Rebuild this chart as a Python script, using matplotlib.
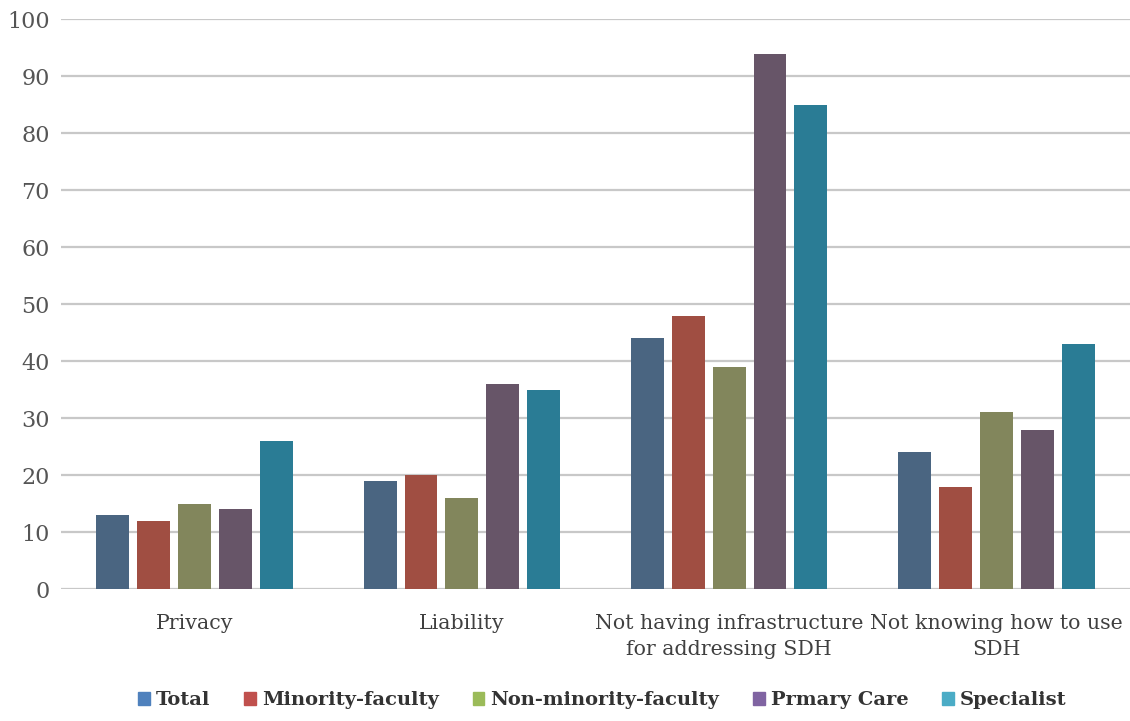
import matplotlib.pyplot as plt
import matplotlib.patches as mpatches
import numpy as np

categories = ["Privacy", "Liability", "Not having infrastructure\nfor addressing SDH",
              "Not knowing how to use\nSDH"]
series = ["Total", "Minority-faculty", "Non-minority-faculty", "Prmary Care", "Specialist"]
values = {
    "Total": [13, 19, 44, 24],
    "Minority-faculty": [12, 20, 48, 18],
    "Non-minority-faculty": [15, 16, 39, 31],
    "Prmary Care": [14, 36, 94, 28],
    "Specialist": [26, 35, 85, 43],
}
bar_colors = ["#4a6581", "#a04e42", "#82865c", "#675568", "#2a7c95"]
legend_colors = ["#4f81bd", "#c0504d", "#9bbb59", "#8064a2", "#4bacc6"]

plt.rcParams['font.family'] = ['DejaVu Serif']

fig = plt.figure(figsize=(11.3, 7.21), dpi=100)
ax = fig.add_axes([0.054, 0.183, 0.946, 0.79])

x = np.arange(len(categories))
pitch = 0.153
width = 0.123
for i, (name, col) in enumerate(zip(series, bar_colors)):
    ax.bar(x + (i - 2) * pitch, values[name], width, color=col, zorder=3)

ax.set_xlim(-0.5, len(categories) - 0.5)
ax.set_ylim(0, 100)
ax.set_yticks(range(0, 101, 10))
ax.yaxis.grid(True, color="#c8c8c8", linewidth=1.6, zorder=0)
ax.set_xticks(x)
ax.set_xticklabels(categories, fontsize=14.8, color="#404040", linespacing=1.45)
ax.tick_params(axis="x", length=0, pad=18)
ax.tick_params(axis="y", length=0, pad=8, labelsize=16, labelcolor="#555555")
for sp in ax.spines.values():
    sp.set_visible(False)

handles = [mpatches.Patch(color=c, label=s) for s, c in zip(series, legend_colors)]
fig.legend(handles=handles, loc="lower center", bbox_to_anchor=(0.533, -0.008), ncol=5,
           frameon=False, handlelength=0.6, handleheight=0.6, handletextpad=0.3,
           columnspacing=1.75, prop={"size": 14, "weight": "bold"}, labelcolor="#333333")

fig.savefig("out.png", dpi=100)
